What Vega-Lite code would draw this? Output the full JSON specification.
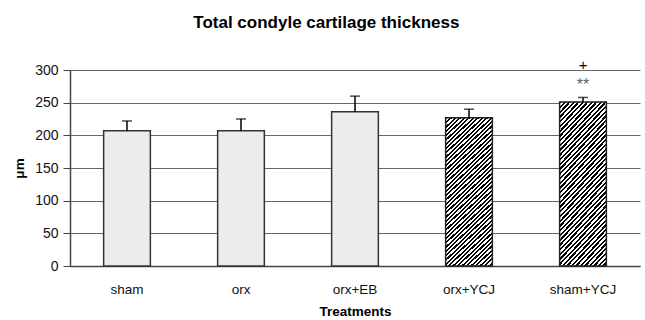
{
  "$schema": "https://vega.github.io/schema/vega-lite/v6.json",
  "width": 570,
  "height": 196,
  "autosize": {"type": "none"},
  "padding": {"left": 70, "top": 70, "right": 5, "bottom": 54},
  "background": "white",
  "title": {
    "text": "Total condyle cartilage thickness",
    "font": "Liberation Sans",
    "fontSize": 17,
    "fontWeight": "bold",
    "color": "#000",
    "anchor": "middle",
    "frame": "bounds",
    "offset": 26
  },
  "config": {
    "view": {"stroke": null},
    "axis": {"labelFont": "Liberation Sans", "titleFont": "Liberation Sans"},
    "axisY": {
      "titleFontSize": 13.5,
      "titleFontWeight": "bold",
      "titleColor": "#000",
      "titlePadding": 8,
      "values": [0, 50, 100, 150, 200, 250, 300],
      "labelFontSize": 14,
      "labelColor": "#111",
      "labelPadding": 5,
      "tickSize": 7,
      "tickColor": "#444",
      "domainColor": "#444",
      "domainWidth": 1.5,
      "grid": true,
      "gridColor": "#666",
      "gridWidth": 1
    }
  },
  "data": {
    "values": [
      {"treatment": "sham", "value": 207, "upper": 222, "group": "stipple", "sig": "", "plus": ""},
      {"treatment": "orx", "value": 207, "upper": 225, "group": "stipple", "sig": "", "plus": ""},
      {"treatment": "orx+EB", "value": 236, "upper": 260, "group": "stipple", "sig": "", "plus": ""},
      {"treatment": "orx+YCJ", "value": 227, "upper": 240, "group": "hatch", "sig": "", "plus": ""},
      {"treatment": "sham+YCJ", "value": 251, "upper": 258, "group": "hatch", "sig": "**", "plus": "+"}
    ]
  },
  "encoding": {
    "x": {
      "field": "treatment",
      "type": "nominal",
      "sort": null,
      "scale": {"paddingInner": 0.59, "paddingOuter": 0.295},
      "axis": {
        "title": "Treatments",
        "titleFontSize": 13.5,
        "titleFontWeight": "bold",
        "titleColor": "#000",
        "titlePadding": 9,
        "labelAngle": 0,
        "labelFontSize": 13.5,
        "labelColor": "#111",
        "labelPadding": 16,
        "ticks": false,
        "domainColor": "#444",
        "domainWidth": 1.5,
        "encode": {
          "labels": {
            "update": {
              "dx": {"signal": "-3 - 8 * indexof(['sham','orx','orx+EB','orx+YCJ','sham+YCJ'], datum.value)"}
            }
          }
        }
      }
    },
    "y": {
      "field": "value",
      "type": "quantitative",
      "scale": {"domain": [0, 300], "nice": false},
      "title": "μm"
    }
  },
  "layer": [
    {
      "transform": [{"filter": "datum.group == 'stipple'"}],
      "mark": {"type": "bar", "fill": "#ececec", "stroke": "#333", "strokeWidth": 1.5}
    },
    {
      "transform": [{"filter": "datum.group == 'hatch'"}],
      "mark": {
        "type": "bar",
        "stroke": "#222",
        "strokeWidth": 1.5,
        "fill": {
          "gradient": "linear",
          "x1": 0, "y1": 0, "x2": 0.358, "y2": 1.193,
          "stops": [
            {"offset": 0, "color": "#000"},
            {"offset": 0.0111, "color": "#000"}, {"offset": 0.0111, "color": "#fff"},
            {"offset": 0.0222, "color": "#fff"}, {"offset": 0.0222, "color": "#000"},
            {"offset": 0.0333, "color": "#000"}, {"offset": 0.0333, "color": "#fff"},
            {"offset": 0.0444, "color": "#fff"}, {"offset": 0.0444, "color": "#000"},
            {"offset": 0.0556, "color": "#000"}, {"offset": 0.0556, "color": "#fff"},
            {"offset": 0.0667, "color": "#fff"}, {"offset": 0.0667, "color": "#000"},
            {"offset": 0.0778, "color": "#000"}, {"offset": 0.0778, "color": "#fff"},
            {"offset": 0.0889, "color": "#fff"}, {"offset": 0.0889, "color": "#000"},
            {"offset": 0.1, "color": "#000"}, {"offset": 0.1, "color": "#fff"},
            {"offset": 0.1111, "color": "#fff"}, {"offset": 0.1111, "color": "#000"},
            {"offset": 0.1222, "color": "#000"}, {"offset": 0.1222, "color": "#fff"},
            {"offset": 0.1333, "color": "#fff"}, {"offset": 0.1333, "color": "#000"},
            {"offset": 0.1444, "color": "#000"}, {"offset": 0.1444, "color": "#fff"},
            {"offset": 0.1556, "color": "#fff"}, {"offset": 0.1556, "color": "#000"},
            {"offset": 0.1667, "color": "#000"}, {"offset": 0.1667, "color": "#fff"},
            {"offset": 0.1778, "color": "#fff"}, {"offset": 0.1778, "color": "#000"},
            {"offset": 0.1889, "color": "#000"}, {"offset": 0.1889, "color": "#fff"},
            {"offset": 0.2, "color": "#fff"}, {"offset": 0.2, "color": "#000"},
            {"offset": 0.2111, "color": "#000"}, {"offset": 0.2111, "color": "#fff"},
            {"offset": 0.2222, "color": "#fff"}, {"offset": 0.2222, "color": "#000"},
            {"offset": 0.2333, "color": "#000"}, {"offset": 0.2333, "color": "#fff"},
            {"offset": 0.2444, "color": "#fff"}, {"offset": 0.2444, "color": "#000"},
            {"offset": 0.2556, "color": "#000"}, {"offset": 0.2556, "color": "#fff"},
            {"offset": 0.2667, "color": "#fff"}, {"offset": 0.2667, "color": "#000"},
            {"offset": 0.2778, "color": "#000"}, {"offset": 0.2778, "color": "#fff"},
            {"offset": 0.2889, "color": "#fff"}, {"offset": 0.2889, "color": "#000"},
            {"offset": 0.3, "color": "#000"}, {"offset": 0.3, "color": "#fff"},
            {"offset": 0.3111, "color": "#fff"}, {"offset": 0.3111, "color": "#000"},
            {"offset": 0.3222, "color": "#000"}, {"offset": 0.3222, "color": "#fff"},
            {"offset": 0.3333, "color": "#fff"}, {"offset": 0.3333, "color": "#000"},
            {"offset": 0.3444, "color": "#000"}, {"offset": 0.3444, "color": "#fff"},
            {"offset": 0.3556, "color": "#fff"}, {"offset": 0.3556, "color": "#000"},
            {"offset": 0.3667, "color": "#000"}, {"offset": 0.3667, "color": "#fff"},
            {"offset": 0.3778, "color": "#fff"}, {"offset": 0.3778, "color": "#000"},
            {"offset": 0.3889, "color": "#000"}, {"offset": 0.3889, "color": "#fff"},
            {"offset": 0.4, "color": "#fff"}, {"offset": 0.4, "color": "#000"},
            {"offset": 0.4111, "color": "#000"}, {"offset": 0.4111, "color": "#fff"},
            {"offset": 0.4222, "color": "#fff"}, {"offset": 0.4222, "color": "#000"},
            {"offset": 0.4333, "color": "#000"}, {"offset": 0.4333, "color": "#fff"},
            {"offset": 0.4444, "color": "#fff"}, {"offset": 0.4444, "color": "#000"},
            {"offset": 0.4556, "color": "#000"}, {"offset": 0.4556, "color": "#fff"},
            {"offset": 0.4667, "color": "#fff"}, {"offset": 0.4667, "color": "#000"},
            {"offset": 0.4778, "color": "#000"}, {"offset": 0.4778, "color": "#fff"},
            {"offset": 0.4889, "color": "#fff"}, {"offset": 0.4889, "color": "#000"},
            {"offset": 0.5, "color": "#000"}, {"offset": 0.5, "color": "#fff"},
            {"offset": 0.5111, "color": "#fff"}, {"offset": 0.5111, "color": "#000"},
            {"offset": 0.5222, "color": "#000"}, {"offset": 0.5222, "color": "#fff"},
            {"offset": 0.5333, "color": "#fff"}, {"offset": 0.5333, "color": "#000"},
            {"offset": 0.5444, "color": "#000"}, {"offset": 0.5444, "color": "#fff"},
            {"offset": 0.5556, "color": "#fff"}, {"offset": 0.5556, "color": "#000"},
            {"offset": 0.5667, "color": "#000"}, {"offset": 0.5667, "color": "#fff"},
            {"offset": 0.5778, "color": "#fff"}, {"offset": 0.5778, "color": "#000"},
            {"offset": 0.5889, "color": "#000"}, {"offset": 0.5889, "color": "#fff"},
            {"offset": 0.6, "color": "#fff"}, {"offset": 0.6, "color": "#000"},
            {"offset": 0.6111, "color": "#000"}, {"offset": 0.6111, "color": "#fff"},
            {"offset": 0.6222, "color": "#fff"}, {"offset": 0.6222, "color": "#000"},
            {"offset": 0.6333, "color": "#000"}, {"offset": 0.6333, "color": "#fff"},
            {"offset": 0.6444, "color": "#fff"}, {"offset": 0.6444, "color": "#000"},
            {"offset": 0.6556, "color": "#000"}, {"offset": 0.6556, "color": "#fff"},
            {"offset": 0.6667, "color": "#fff"}, {"offset": 0.6667, "color": "#000"},
            {"offset": 0.6778, "color": "#000"}, {"offset": 0.6778, "color": "#fff"},
            {"offset": 0.6889, "color": "#fff"}, {"offset": 0.6889, "color": "#000"},
            {"offset": 0.7, "color": "#000"}, {"offset": 0.7, "color": "#fff"},
            {"offset": 0.7111, "color": "#fff"}, {"offset": 0.7111, "color": "#000"},
            {"offset": 0.7222, "color": "#000"}, {"offset": 0.7222, "color": "#fff"},
            {"offset": 0.7333, "color": "#fff"}, {"offset": 0.7333, "color": "#000"},
            {"offset": 0.7444, "color": "#000"}, {"offset": 0.7444, "color": "#fff"},
            {"offset": 0.7556, "color": "#fff"}, {"offset": 0.7556, "color": "#000"},
            {"offset": 0.7667, "color": "#000"}, {"offset": 0.7667, "color": "#fff"},
            {"offset": 0.7778, "color": "#fff"}, {"offset": 0.7778, "color": "#000"},
            {"offset": 0.7889, "color": "#000"}, {"offset": 0.7889, "color": "#fff"},
            {"offset": 0.8, "color": "#fff"}, {"offset": 0.8, "color": "#000"},
            {"offset": 0.8111, "color": "#000"}, {"offset": 0.8111, "color": "#fff"},
            {"offset": 0.8222, "color": "#fff"}, {"offset": 0.8222, "color": "#000"},
            {"offset": 0.8333, "color": "#000"}, {"offset": 0.8333, "color": "#fff"},
            {"offset": 0.8444, "color": "#fff"}, {"offset": 0.8444, "color": "#000"},
            {"offset": 0.8556, "color": "#000"}, {"offset": 0.8556, "color": "#fff"},
            {"offset": 0.8667, "color": "#fff"}, {"offset": 0.8667, "color": "#000"},
            {"offset": 0.8778, "color": "#000"}, {"offset": 0.8778, "color": "#fff"},
            {"offset": 0.8889, "color": "#fff"}, {"offset": 0.8889, "color": "#000"},
            {"offset": 0.9, "color": "#000"}, {"offset": 0.9, "color": "#fff"},
            {"offset": 0.9111, "color": "#fff"}, {"offset": 0.9111, "color": "#000"},
            {"offset": 0.9222, "color": "#000"}, {"offset": 0.9222, "color": "#fff"},
            {"offset": 0.9333, "color": "#fff"}, {"offset": 0.9333, "color": "#000"},
            {"offset": 0.9444, "color": "#000"}, {"offset": 0.9444, "color": "#fff"},
            {"offset": 0.9556, "color": "#fff"}, {"offset": 0.9556, "color": "#000"},
            {"offset": 0.9667, "color": "#000"}, {"offset": 0.9667, "color": "#fff"},
            {"offset": 0.9778, "color": "#fff"}, {"offset": 0.9778, "color": "#000"},
            {"offset": 0.9889, "color": "#000"}, {"offset": 0.9889, "color": "#fff"},
            {"offset": 1, "color": "#fff"}
          ]
        }
      }
    },
    {
      "mark": {"type": "rule", "color": "#000", "strokeWidth": 1.5},
      "encoding": {
        "y2": {"field": "upper"}
      }
    },
    {
      "mark": {"type": "tick", "color": "#000", "size": 10, "thickness": 1.5, "orient": "horizontal"},
      "encoding": {
        "y": {"field": "upper", "type": "quantitative", "title": "μm"}
      }
    },
    {
      "transform": [{"filter": "datum.sig != ''"}],
      "mark": {"type": "text", "font": "Liberation Sans", "fontSize": 16, "color": "#666", "dy": -12, "baseline": "middle"},
      "encoding": {
        "y": {"field": "upper", "type": "quantitative", "title": "μm"},
        "text": {"field": "sig"}
      }
    },
    {
      "transform": [{"filter": "datum.plus != ''"}],
      "mark": {"type": "text", "font": "Liberation Sans", "fontSize": 15, "color": "#000", "dy": -32, "baseline": "middle"},
      "encoding": {
        "y": {"field": "upper", "type": "quantitative", "title": "μm"},
        "text": {"field": "plus"}
      }
    }
  ]
}
